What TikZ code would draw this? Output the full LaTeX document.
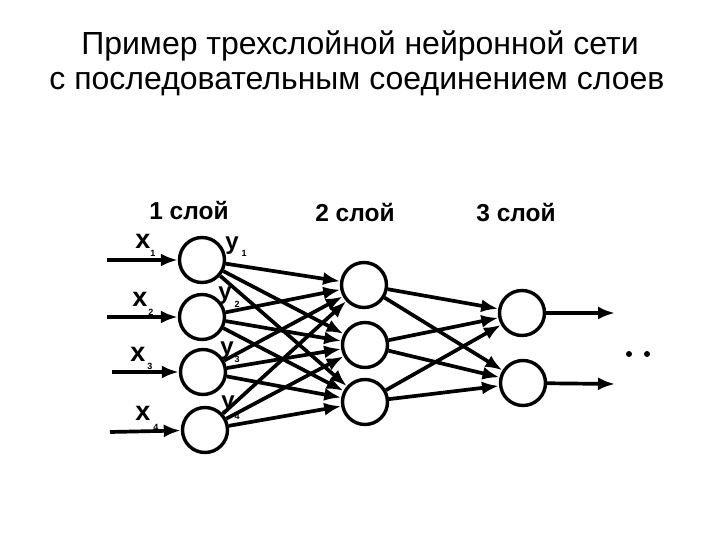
\documentclass[tikz,border=0pt]{standalone}
\usepackage{fontspec}
\setmainfont{Liberation Sans}
\usetikzlibrary{arrows.meta}
\tikzset{
  neuron/.style={circle,draw,line width=3.4pt,minimum size=45pt,inner sep=0pt},
  conn/.style={line width=3.7pt,-{Latex[length=17pt,width=13pt]}},
  lblx/.style={inner sep=0pt,font=\fontsize{27}{27}\selectfont\bfseries},
  lbly/.style={inner sep=0pt,font=\fontsize{24}{24}\selectfont\bfseries},
  sub/.style={inner sep=0pt,font=\fontsize{9}{9}\selectfont\bfseries},
  layertitle/.style={inner sep=0pt,font=\fontsize{24.5}{24.5}\selectfont\bfseries},
  titletext/.style={inner sep=0pt,anchor=base,font=\fontsize{32}{32}\selectfont},
  dotmark/.style={circle,fill,inner sep=0pt,minimum size=6pt}
}
\begin{document}
\begin{tikzpicture}[x=1pt,y=-1pt]
\useasboundingbox (0,0) rectangle (720,540);
% title
\node[titletext] (t1) at (360,55) {Пример трехслойной нейронной сети};
\node[titletext] (t2) at (357,90) {с последовательным соединением слоев};
% layer titles
\node[layertitle] (h1) at (189,211) {1 слой};
\node[layertitle] (h2) at (355,213) {2 слой};
\node[layertitle] (h3) at (516,213) {3 слой};
% neurons
\node[neuron] (a1) at (202,260) {};
\node[neuron] (a2) at (202,317) {};
\node[neuron] (a3) at (203,372) {};
\node[neuron] (a4) at (205,430) {};
\node[neuron] (b1) at (364,285) {};
\node[neuron] (b2) at (365,345) {};
\node[neuron] (b3) at (365,402) {};
\node[neuron] (c1) at (522,313) {};
\node[neuron] (c2) at (523,383) {};
% inputs
\coordinate (i1) at (107,260);
\coordinate (i2) at (107,317);
\coordinate (i3) at (112,372);
\coordinate (i4) at (110,432);
\draw[conn] (i1) -- (a1);
\draw[conn] (i2) -- (a2);
\draw[conn] (i3) -- (a3);
\draw[conn] (i4) -- (a4);
% layer 1 -> 2
\foreach \s in {a1,a2,a3,a4}{
  \foreach \t in {b1,b2,b3}{
    \draw[conn] (\s) -- (\t);
  }
}
% layer 2 -> 3
\foreach \s in {b1,b2,b3}{
  \foreach \t in {c1,c2}{
    \draw[conn] (\s) -- (\t);
  }
}
% outputs
\coordinate (o1) at (615,313);
\coordinate (o2) at (615,384);
\draw[conn] (c1) -- (o1);
\draw[conn] (c2) -- (o2);
\node[dotmark] (d1) at (629,354) {};
\node[dotmark] (d2) at (647,354) {};
% labels x
\node[lblx] (x1) at (143,241) {x};
\node[sub] (x1s) at (153,253) {1};
\node[lblx] (x2) at (140,299) {x};
\node[sub] (x2s) at (151,312) {2};
\node[lblx] (x3) at (138,354) {x};
\node[sub] (x3s) at (150,366) {3};
\node[lblx] (x4) at (143,413) {x};
\node[sub] (x4s) at (156,427) {4};
% labels y
\node[lbly] (y1) at (232,246) {y};
\node[sub] (y1s) at (244,253) {1};
\node[lbly] (y2) at (225,296) {y};
\node[sub] (y2s) at (237,304) {2};
\node[lbly] (y3) at (227,351) {y};
\node[sub] (y3s) at (237,359) {3};
\node[lbly] (y4) at (228,405) {y};
\node[sub] (y4s) at (237,416) {4};
\end{tikzpicture}
\end{document}
